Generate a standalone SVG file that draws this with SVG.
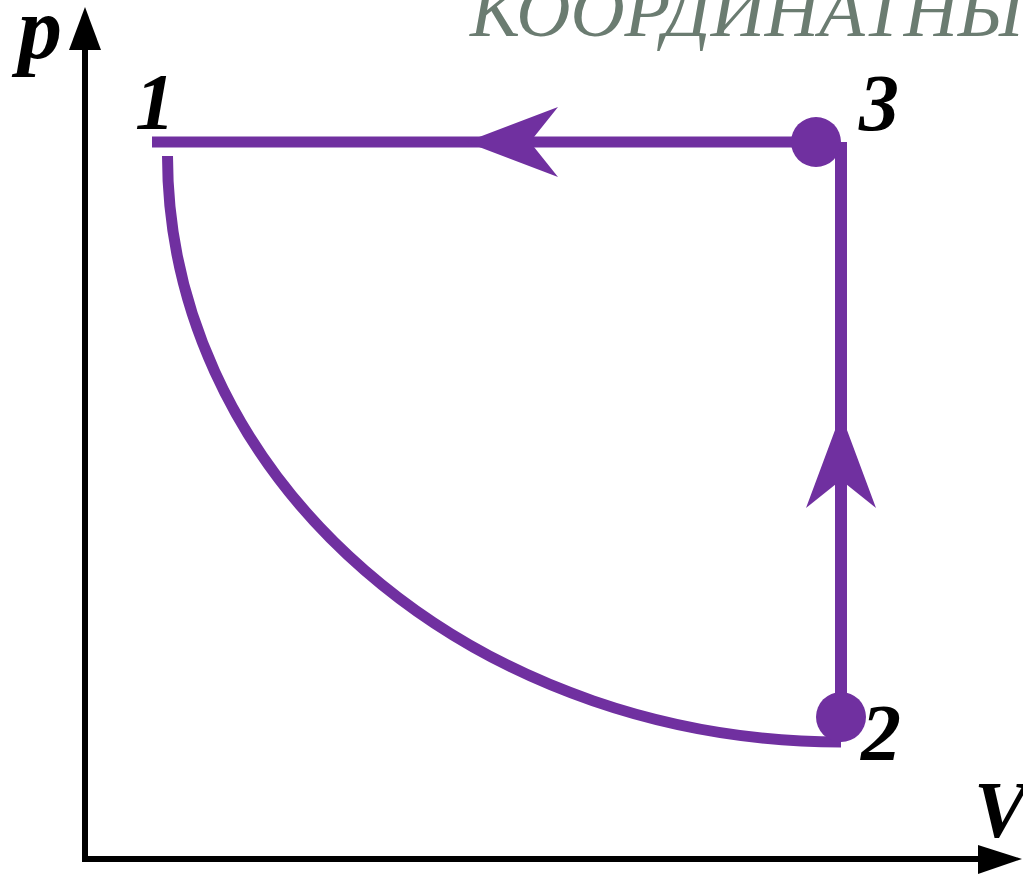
<svg xmlns="http://www.w3.org/2000/svg" width="1023" height="875" viewBox="0 0 1023 875">
<style>
.lbl{font-family:"Liberation Serif","Times New Roman",serif;font-weight:bold;font-style:italic;fill:#000}
.title{font-family:"Liberation Serif","Times New Roman",serif;font-style:italic;fill:#6B7C71}
.proc{stroke:#7030A0;fill:none;stroke-linecap:butt}
.pt{fill:#7030A0}
.ah{fill:#7030A0}
</style>
<rect width="1023" height="875" fill="#fff"/>
<text class="title" x="470" y="36" font-size="75">КООРДИНАТНЫ</text>
<g id="axes">
  <line x1="85" y1="48" x2="85" y2="859" stroke="#000" stroke-width="6"/>
  <line x1="82" y1="859" x2="980" y2="859" stroke="#000" stroke-width="6"/>
  <polygon points="85,7 69,50 101,50" fill="#000"/>
  <polygon points="1022,859 978,845 978,874" fill="#000"/>
  <text class="lbl" x="18" y="58" font-size="88">p</text>
  <text class="lbl" x="974" y="837" font-size="80">V</text>
</g>
<g id="connectors">
  <line class="proc" x1="152" y1="142" x2="816" y2="142" stroke-width="11"/>
  <line class="proc" x1="841" y1="142" x2="841" y2="717" stroke-width="12"/>
  <path class="proc" d="M167.5,156 A673.5,586 0 0 0 841,742" stroke-width="11"/>
  <polygon class="ah" points="466,142 558,107 530,142 558,177"/>
  <polygon class="ah" points="841,414 876,508 841,480 806,508"/>
</g>
<g id="node1">
  <text class="lbl" x="135" y="129" font-size="80">1</text>
</g>
<g id="node2">
  <circle class="pt" cx="841" cy="717" r="25"/>
  <text class="lbl" x="861" y="760" font-size="80">2</text>
</g>
<g id="node3">
  <circle class="pt" cx="816" cy="142" r="25"/>
  <text class="lbl" x="859" y="130" font-size="80">3</text>
</g>
</svg>
